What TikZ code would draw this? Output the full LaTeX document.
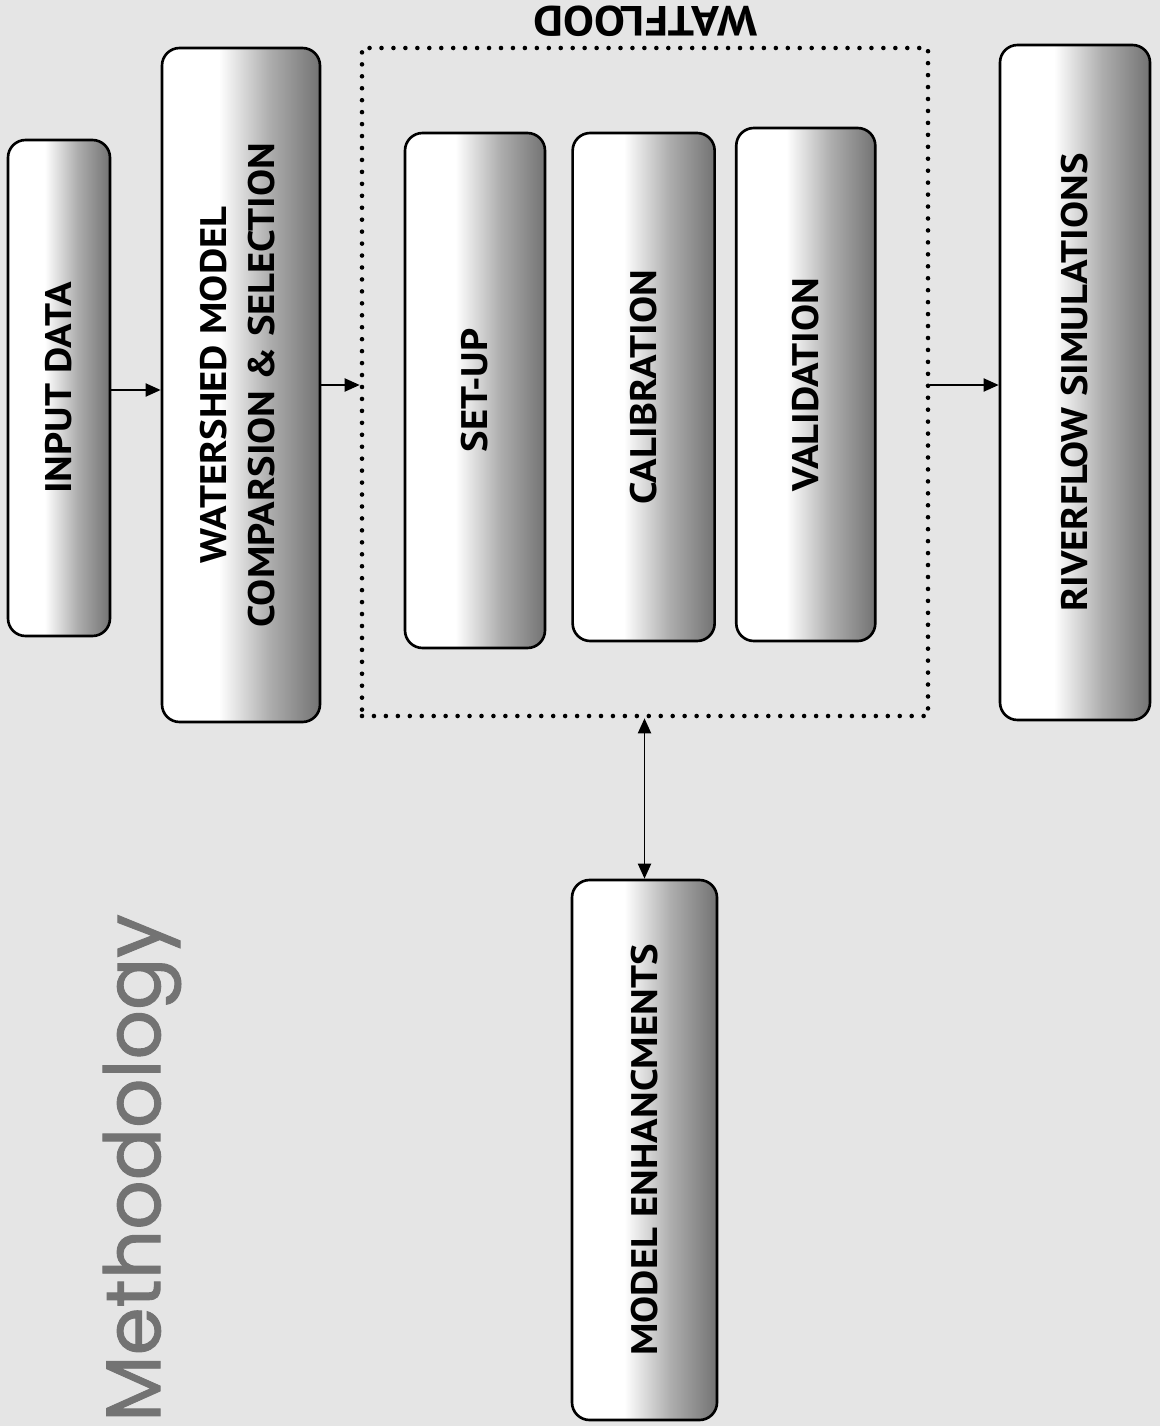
\documentclass[tikz,border=0pt]{standalone}
\usepackage{fontspec}
\setmainfont{PT Sans}
\newfontfamily\boxfont{PT Sans}[FakeStretch=1.1]
\newfontfamily\titlefont{Poppins}[FakeBold=1.2]
\usetikzlibrary{arrows.meta,positioning}
\pgfdeclarehorizontalshading{boxgrad}{100bp}{color(0bp)=(white); color(25bp)=(white); color(43bp)=(white); color(59bp)=(black!32); color(75bp)=(black!55); color(100bp)=(black!55)}

\begin{document}
\begin{tikzpicture}[
  node distance=0.5cm and 0.5cm,
  stagebox/.style={draw,line width=1.5pt,rounded corners=10pt,shade,shading=boxgrad,align=center,inner sep=0pt,
    font=\boxfont\bfseries\fontsize{21}{27}\selectfont},
  arr/.style={-{Triangle[length=3mm,width=2.6mm]},line width=1.1pt},
  dblarr/.style={{Triangle[length=3mm,width=2.6mm]}-{Triangle[length=3mm,width=2.6mm]},line width=1.1pt}
]
\path[use as bounding box,fill=gray!20] (0,0) rectangle (23.2,-28.52);

\node[stagebox,minimum width=2.04cm,minimum height=9.92cm] (input) at (1.18,-7.76) {\rotatebox{90}{INPUT DATA}};
\node[stagebox,minimum width=3.16cm,minimum height=13.48cm] (wshed) at (4.82,-7.70)
  {\rotatebox{90}{\begin{tabular}{@{}c@{}}WATERSHED MODEL\\COMPARSION \& SELECTION\end{tabular}}};

% WATFLOOD block
\node[draw,line width=2.6pt,dash pattern=on 0pt off 6.8pt,line cap=round,minimum width=11.32cm,minimum height=13.36cm] (watflood) at (12.90,-7.64) {};
\node[rotate=180,anchor=base,inner sep=1pt,font=\boxfont\bfseries\fontsize{24}{30}\selectfont] (watlbl) at ([yshift=0.78cm]watflood.north) {WATFLOOD};

\node[stagebox,minimum width=2.80cm,minimum height=10.30cm] (setup) at (9.50,-7.81) {\rotatebox{90}{SET-UP}};
\node[stagebox,minimum width=2.84cm,minimum height=10.16cm,right=0.5cm of setup.east,anchor=west,yshift=0.07cm] (calib) {\rotatebox{90}{CALIBRATION}};
\node[stagebox,minimum width=2.78cm,minimum height=10.26cm,right=0.38cm of calib.east,anchor=west,yshift=0.05cm] (valid) {\rotatebox{90}{VALIDATION}};

\node[stagebox,minimum width=3.0cm,minimum height=13.5cm] (river) at (21.50,-7.65) {\rotatebox{90}{RIVERFLOW SIMULATIONS}};
\node[stagebox,minimum width=2.9cm,minimum height=10.8cm] (enh) at (12.89,-23.0) {\rotatebox{90}{MODEL ENHANCMENTS}};

\node[rotate=90,text=black!55,font=\titlefont\fontsize{44}{52}\selectfont] (title) at (2.84,-23.36) {Methodology};

\draw[arr] ([yshift=-0.04cm]input.east) -- ([yshift=-0.04cm]input.east -| wshed.west);
\draw[arr] (wshed.east) -- (wshed.east -| watflood.west);
\draw[arr] ([yshift=-0.06cm]watflood.east) -- ([yshift=-0.06cm]watflood.east -| river.west);
\draw[dblarr] (enh.north) -- (enh.north |- watflood.south);
\end{tikzpicture}
\end{document}
